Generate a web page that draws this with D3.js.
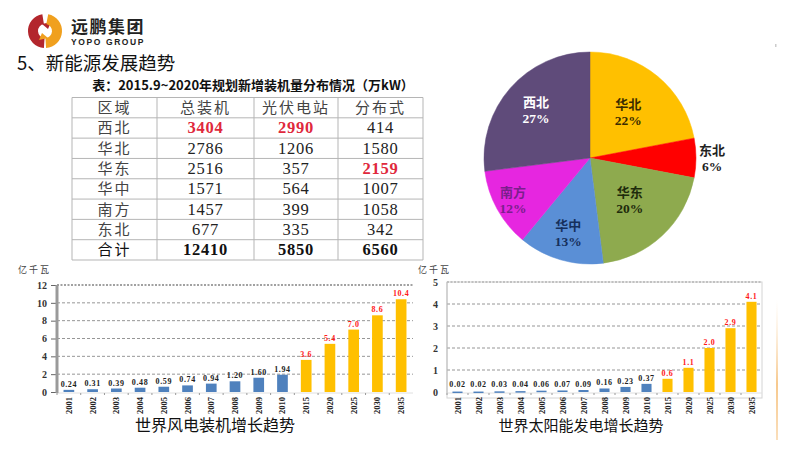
<!DOCTYPE html>
<html>
<head>
<meta charset="utf-8">
<script src="https://cdn.jsdelivr.net/npm/d3@7"></script>
<style>
  body { margin: 0; background: #fff; }
  svg { display: block; }
</style>
</head>
<body>
<svg id="chart" width="789" height="450"></svg>
<script>
// ---- table data ----
var tableHeader = ['区域', '总装机', '光伏电站', '分布式'];
var regions = ['西北', '华北', '华东', '华中', '南方', '东北'];
var totalCap = [3404, 2786, 2516, 1571, 1457, 677];
var pvStation = [2990, 1206, 357, 564, 399, 335];
var distributed = [414, 1580, 2159, 1007, 1058, 342];
var totalRow = ['合计', 12410, 5850, 6560];

// ---- pie data ----
var pieNames = ['华北', '东北', '华东', '华中', '南方', '西北'];
var pieShares = [22, 6, 20, 13, 12, 27];

// ---- bar charts ----
var years = ['2001', '2002', '2003', '2004', '2005', '2006', '2007', '2008', '2009', '2010',
             '2015', '2020', '2025', '2030', '2035'];
var windValues = [0.24, 0.31, 0.39, 0.48, 0.59, 0.74, 0.94, 1.20, 1.60, 1.94, 3.6, 5.4, 7.0, 8.6, 10.4];
var windLabels = ['0.24', '0.31', '0.39', '0.48', '0.59', '0.74', '0.94', '1.20', '1.60', '1.94',
                  '3.6', '5.4', '7.0', '8.6', '10.4'];
var windTicks = [0, 2, 4, 6, 8, 10, 12];
var solarValues = [0.02, 0.02, 0.03, 0.04, 0.06, 0.07, 0.09, 0.16, 0.23, 0.37, 0.6, 1.1, 2.0, 2.9, 4.1];
var solarLabels = ['0.02', '0.02', '0.03', '0.04', '0.06', '0.07', '0.09', '0.16', '0.23', '0.37',
                   '0.6', '1.1', '2.0', '2.9', '4.1'];
var solarTicks = [0, 1, 2, 3, 4, 5];
var forecastFrom = '2015';

var svg = d3.select('#chart');
var CJK = "'Noto Sans CJK SC', 'Noto Sans', sans-serif";
var SERIF = "'Liberation Serif', 'DejaVu Serif', serif";

// ---- header / logo ----
var logo = svg.append('g').attr('transform', 'translate(45,31)');
var logoArc = d3.arc();
logo.append('path')
    .attr('d', logoArc({innerRadius: 7, outerRadius: 17, startAngle: Math.PI * 1.02, endAngle: Math.PI * 1.95}))
    .attr('fill', '#b3262d');
logo.append('path')
    .attr('d', 'M-3,-7 L6,-9 L3,-2 Z')
    .attr('fill', '#b3262d');
logo.append('path')
    .attr('d', logoArc({innerRadius: 7, outerRadius: 17, startAngle: Math.PI * 0.06, endAngle: Math.PI * 0.98}))
    .attr('fill', '#f0a01e');
logo.append('path')
    .attr('d', 'M3,7 L-6,9 L-3,2 Z')
    .attr('fill', '#f0a01e');

svg.append('text').attr('x', 71).attr('y', 33)
    .style('font-family', CJK).style('font-size', '17px').style('font-weight', 700)
    .style('letter-spacing', '1.5px').attr('fill', '#222').text('远鹏集团');
svg.append('text').attr('x', 71).attr('y', 44.5)
    .style('font-family', "'Liberation Sans', sans-serif").style('font-size', '8.5px').style('font-weight', 700)
    .style('letter-spacing', '1.6px').attr('fill', '#222').text('YOPO GROUP');

svg.append('text').attr('x', 17).attr('y', 70)
    .style('font-family', CJK).style('font-size', '18.5px').attr('fill', '#111')
    .text('5、新能源发展趋势');

// ---- table ----
svg.append('text').attr('x', 253).attr('y', 90).attr('text-anchor', 'middle')
    .style('font-family', CJK).style('font-size', '13px').style('font-weight', 700).attr('fill', '#111')
    .text('表：2015.9~2020年规划新增装机量分布情况（万kW）');

var colEdges = [72, 157, 254, 338, 423];
var rowScale = d3.scaleBand().domain(d3.range(8)).range([97.5, 260]);
var tbl = svg.append('g');

var tableRows = [tableHeader].concat(regions.map(function (r, i) {
    return [r, totalCap[i], pvStation[i], distributed[i]];
})).concat([totalRow]);
var colMax = [null, d3.max(totalCap), d3.max(pvStation), d3.max(distributed)];

rowScale.domain().forEach(function (ri) {
    tbl.append('line')
        .attr('x1', colEdges[0]).attr('x2', colEdges[4])
        .attr('y1', rowScale(ri)).attr('y2', rowScale(ri))
        .attr('stroke', '#b5b5b5').attr('stroke-width', 1);
});
tbl.append('line').attr('x1', colEdges[0]).attr('x2', colEdges[4])
    .attr('y1', 260).attr('y2', 260).attr('stroke', '#b5b5b5');
colEdges.forEach(function (x) {
    tbl.append('line').attr('x1', x).attr('x2', x).attr('y1', 97.5).attr('y2', 260)
        .attr('stroke', '#b5b5b5').attr('stroke-width', 1);
});

tableRows.forEach(function (row, ri) {
    var y = rowScale(ri) + rowScale.bandwidth() / 2 + 5.5;
    row.forEach(function (cell, ci) {
        var cx = (colEdges[ci] + colEdges[ci + 1]) / 2;
        var isNum = typeof cell === 'number';
        var isTotal = ri === tableRows.length - 1;
        var hot = isNum && !isTotal && cell === colMax[ci];
        tbl.append('text')
            .attr('x', cx).attr('y', y).attr('text-anchor', 'middle')
            .style('font-family', isNum ? SERIF : CJK)
            .style('font-size', isNum ? '16.5px' : '15px')
            .style('font-weight', (hot || (isTotal && isNum)) ? 700 : 400)
            .style('letter-spacing', isNum ? '0.8px' : '2px')
            .attr('fill', hot ? '#e0283c' : (isTotal ? '#111' : (isNum ? '#222' : '#444')))
            .text(cell);
    });
});

// ---- pie ----
var pieColors = d3.scaleOrdinal().domain(pieNames)
    .range(['#ffc000', '#ff0000', '#8eaa4e', '#5a8fd6', '#e626e0', '#5f4b7a']);
var labelColors = {'华北': '#3a2c00', '东北': '#222', '华东': '#1e2b0c', '华中': '#16305c', '南方': '#7a1f8c', '西北': '#ffffff'};
var labelRadius = {'华北': 60, '东北': 122, '华东': 58, '华中': 78, '南方': 88, '西北': 72};

var pieGen = d3.pie().sort(null).value(function (d) { return d; });
var arcs = pieGen(pieShares);
var pieR = 106;
var pieG = svg.append('g').attr('transform', 'translate(590,158)');
var arcGen = d3.arc().innerRadius(0).outerRadius(pieR);

pieG.selectAll('path.slice').data(arcs).enter().append('path')
    .attr('class', 'slice')
    .attr('d', arcGen)
    .attr('fill', function (d, i) { return pieColors(pieNames[i]); })
    .attr('stroke', function (d, i) { return pieColors(pieNames[i]); })
    .attr('stroke-width', 0.5);

arcs.forEach(function (d, i) {
    var name = pieNames[i];
    var c = d3.arc().innerRadius(labelRadius[name]).outerRadius(labelRadius[name]).centroid(d);
    var t = pieG.append('text').attr('text-anchor', 'middle')
        .attr('transform', 'translate(' + c[0] + ',' + c[1] + ')')
        .attr('fill', labelColors[name])
        .style('font-weight', 700);
    t.append('tspan').attr('x', 0).attr('y', -3)
        .style('font-family', CJK).style('font-size', '13px').text(name);
    t.append('tspan').attr('x', 0).attr('y', 13)
        .style('font-family', SERIF).style('font-size', '13.5px').text(pieShares[i] + '%');
});

// ---- bar charts ----
function barChart(opt) {
    var g = svg.append('g');
    var x = d3.scaleBand().domain(years).range([opt.left, opt.right])
        .paddingInner(opt.padIn).paddingOuter(opt.padIn / 2);
    var y = d3.scaleLinear().domain([0, d3.max(opt.ticks)]).range([opt.bottom, opt.top]);

    if (opt.frame) {
        g.append('rect').attr('x', opt.left).attr('y', opt.top)
            .attr('width', opt.right - opt.left).attr('height', opt.bottom + 6 - opt.top)
            .attr('fill', 'none').attr('stroke', '#d4d4d4').attr('stroke-width', 1);
    }

    opt.ticks.forEach(function (t) {
        if (t === 0) return;
        var top = t === d3.max(opt.ticks);
        g.append('line')
            .attr('x1', opt.left).attr('x2', opt.right)
            .attr('y1', y(t)).attr('y2', y(t))
            .attr('stroke', top ? opt.topGrid : '#8a8a8a')
            .attr('stroke-width', top ? 1.2 : 0.9)
            .attr('stroke-dasharray', top ? '2,1.5' : '3,2');
    });

    // baseline with small category ticks
    g.append('line').attr('x1', opt.left).attr('x2', opt.right)
        .attr('y1', opt.bottom + 1).attr('y2', opt.bottom + 1)
        .attr('stroke', '#e0e0e0');
    years.forEach(function (yr) {
        g.append('line').attr('x1', x(yr) - x.step() * opt.padIn / 2).attr('x2', x(yr) - x.step() * opt.padIn / 2)
            .attr('y1', opt.bottom + 1).attr('y2', opt.bottom + 3)
            .attr('stroke', '#999');
    });

    var yAxis = d3.axisLeft(y).tickValues(opt.ticks).tickFormat(d3.format('d'))
        .tickSize(opt.tickSize).tickPadding(opt.tickPad);
    var ax = g.append('g').attr('transform', 'translate(' + opt.left + ',0)').call(yAxis);
    ax.select('.domain').remove();
    ax.selectAll('.tick line').attr('stroke', '#666');
    ax.selectAll('.tick text')
        .style('font-family', SERIF).style('font-size', '10px').style('font-weight', 700)
        .attr('fill', '#333');

    g.append('line').attr('x1', opt.left).attr('x2', opt.left)
        .attr('y1', opt.top).attr('y2', opt.bottom + 1)
        .attr('stroke', opt.axisColor).attr('stroke-width', opt.axisWidth);

    g.selectAll('rect.bar').data(opt.values).enter().append('rect')
        .attr('class', 'bar')
        .attr('x', function (d, i) { return x(years[i]); })
        .attr('width', x.bandwidth())
        .attr('y', function (d) { return y(d); })
        .attr('height', function (d) { return Math.max(opt.bottom - y(d), 1.5); })
        .attr('fill', function (d, i) { return years[i] >= forecastFrom ? '#ffc000' : '#4f81bd'; });

    g.selectAll('text.val').data(opt.labels).enter().append('text')
        .attr('class', 'val')
        .attr('x', function (d, i) { return x(years[i]) + x.bandwidth() / 2; })
        .attr('y', function (d, i) { return Math.min(y(opt.values[i]), opt.bottom - 2) - 3; })
        .attr('text-anchor', 'middle')
        .style('font-family', SERIF).style('font-size', '8px').style('font-weight', 700)
        .style('letter-spacing', '0.6px')
        .attr('fill', function (d, i) { return years[i] >= forecastFrom ? '#ff1a1a' : '#222'; })
        .text(function (d) { return d; });

    g.selectAll('text.yr').data(years).enter().append('text')
        .attr('class', 'yr')
        .attr('transform', function (d) {
            return 'translate(' + (x(d) + x.bandwidth() / 2 + 3) + ',' + (opt.bottom + 5) + ') rotate(-90)';
        })
        .attr('text-anchor', 'end')
        .style('font-family', SERIF).style('font-size', '8.5px').style('font-weight', 700)
        .attr('fill', '#222')
        .text(function (d) { return d; });

    g.append('text').attr('x', opt.unitX).attr('y', 273)
        .style('font-family', CJK).style('font-size', '9px').style('letter-spacing', '2px')
        .attr('fill', '#444').text('亿千瓦');

    g.append('text').attr('x', opt.titleX).attr('y', 431).attr('text-anchor', 'middle')
        .style('font-family', CJK).style('font-size', opt.titleSize).attr('fill', '#111')
        .text(opt.title);
}

barChart({
    left: 57, right: 413, top: 285, bottom: 392, padIn: 0.55,
    ticks: windTicks, values: windValues, labels: windLabels,
    tickSize: 6, tickPad: 4, axisColor: '#9a9a9a', axisWidth: 3, topGrid: '#444',
    frame: false, unitX: 18, titleX: 215, titleSize: '16px', title: '世界风电装机增长趋势'
});

barChart({
    left: 447, right: 762, top: 282, bottom: 392, padIn: 0.52,
    ticks: solarTicks, values: solarValues, labels: solarLabels,
    tickSize: 0, tickPad: 9, axisColor: '#bdbdbd', axisWidth: 1, topGrid: '#999',
    frame: true, unitX: 418, titleX: 581, titleSize: '15px', title: '世界太阳能发电增长趋势'
});

// faint decorative strip on the right edge
var grad = svg.append('defs').append('linearGradient').attr('id', 'edge')
    .attr('x1', 0).attr('x2', 0).attr('y1', 0).attr('y2', 1);
grad.append('stop').attr('offset', '0%').attr('stop-color', '#fbe3c4').attr('stop-opacity', 0);
grad.append('stop').attr('offset', '60%').attr('stop-color', '#f7c98e');
grad.append('stop').attr('offset', '100%').attr('stop-color', '#f7c98e').attr('stop-opacity', 0.6);
svg.append('rect').attr('x', 776).attr('y', 300).attr('width', 2).attr('height', 140).attr('fill', 'url(#edge)');
svg.append('rect').attr('x', 775).attr('y', 44).attr('width', 1.5).attr('height', 3).attr('fill', '#ccc');
</script>
</body>
</html>
